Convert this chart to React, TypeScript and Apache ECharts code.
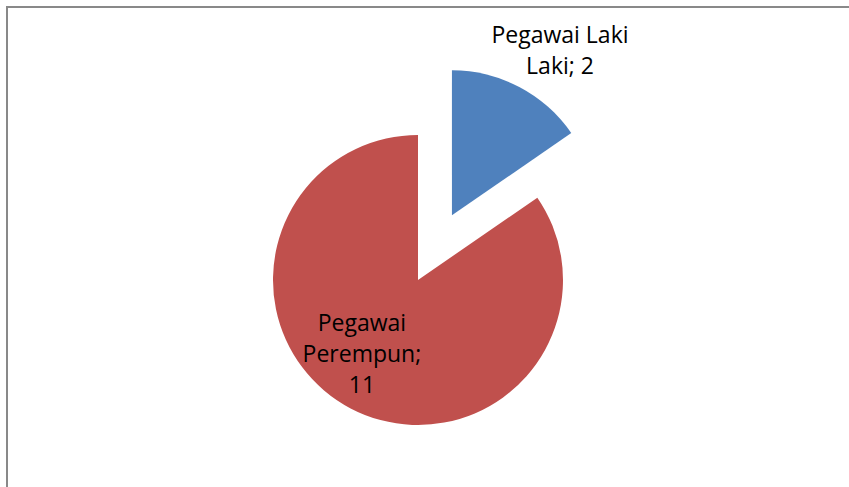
import React, { useEffect, useRef } from "react";
import * as echarts from "echarts";

const categories = ["Pegawai Laki Laki", "Pegawai Perempun"];
const values = [2, 11];
const colors = ["#4F81BD", "#C0504D"];
const labelLines = [
  ["Pegawai Laki", "Laki; "],
  ["Pegawai", "Perempun;", ""],
];

export default function App() {
  const ref = useRef<HTMLDivElement>(null);

  useEffect(() => {
    document.body.style.margin = "0";
    const chart = echarts.init(ref.current!, null, { renderer: "svg" });
    const shifts = [
      [73, -99],
      [-21, 6],
    ];
    chart.setOption({
      animation: false,
      backgroundColor: "#ffffff",
      graphic: [
        {
          type: "rect",
          shape: { x: 7, y: 7, width: 900, height: 600 },
          style: { fill: "none", stroke: "#898989", lineWidth: 2 },
          silent: true,
        },
      ],
      series: [
        {
          type: "pie",
          center: [418, 280],
          radius: 145,
          startAngle: 90,
          clockwise: true,
          selectedMode: "single",
          selectedOffset: 73,
          emphasis: { disabled: true },
          labelLine: { show: false },
          label: {
            show: true,
            position: "inside",
            color: "#000000",
            fontFamily: "Open Sans",
            fontSize: 23,
            lineHeight: 31,
            align: "center",
            formatter: (p: any) => labelLines[p.dataIndex].join("\n") + p.value,
          },
          labelLayout: (p: any) => ({
            dx: shifts[p.dataIndex][0],
            dy: shifts[p.dataIndex][1],
          }),
          data: categories.map((name, i) => ({
            name,
            value: values[i],
            selected: i === 0,
            itemStyle: { color: colors[i] },
          })),
        },
      ],
    });
    return () => chart.dispose();
  }, []);

  return <div ref={ref} style={{ width: 849, height: 487 }} />;
}
